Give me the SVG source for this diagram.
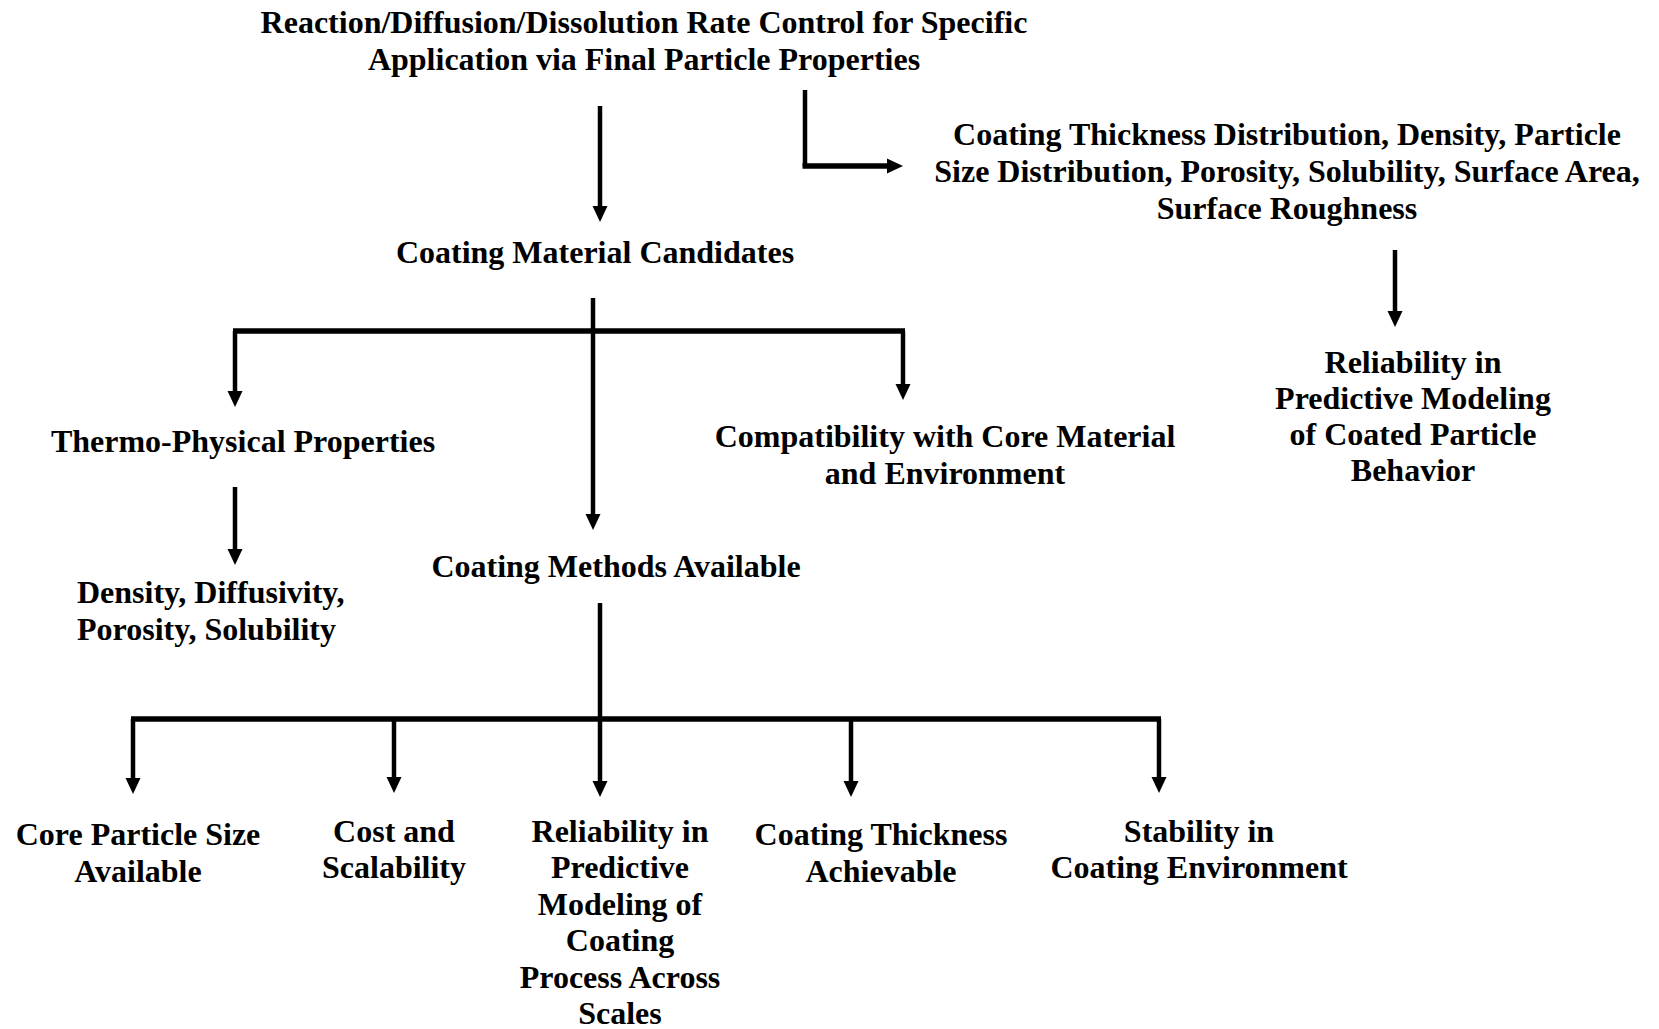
<svg xmlns="http://www.w3.org/2000/svg" width="1659" height="1029" viewBox="0 0 1659 1029">
<style>
text{font-family:"Liberation Serif","Times New Roman",serif;font-weight:bold;font-size:32px;fill:#000;text-anchor:middle}
.l{text-anchor:start}
.c{fill:none;stroke:#000;stroke-width:4.5}
.b{fill:none;stroke:#000;stroke-width:5.5}
</style>
<defs>
<marker id="ah" markerUnits="userSpaceOnUse" markerWidth="16" markerHeight="16" refX="0" refY="7.5" orient="auto" overflow="visible">
<path d="M0,0 L16,7.5 L0,15 Z" fill="#000"/>
</marker>
</defs>
<rect width="1659" height="1029" fill="#fff"/>
<g id="connectors">
<path class="c" d="M600,106 V206" marker-end="url(#ah)"/>
<path class="c" d="M805,90 V166" />
<path class="b" d="M802.5,166 H887" marker-end="url(#ah)"/>
<path class="c" d="M1395,250 V311" marker-end="url(#ah)"/>
<path class="c" d="M593,298 V514" marker-end="url(#ah)"/>
<path class="b" d="M233,331 H905"/>
<path class="c" d="M235,331 V391" marker-end="url(#ah)"/>
<path class="c" d="M903,331 V384" marker-end="url(#ah)"/>
<path class="c" d="M235,487 V549" marker-end="url(#ah)"/>
<path class="c" d="M600,603 V719"/>
<path class="b" d="M131,719 H1161"/>
<path class="c" d="M133,719 V778" marker-end="url(#ah)"/>
<path class="c" d="M394,719 V777" marker-end="url(#ah)"/>
<path class="c" d="M600,719 V781" marker-end="url(#ah)"/>
<path class="c" d="M851,719 V781" marker-end="url(#ah)"/>
<path class="c" d="M1159,719 V777" marker-end="url(#ah)"/>
</g>
<g id="n-goal"><text x="644" y="33">Reaction/Diffusion/Dissolution Rate Control for Specific</text><text x="644" y="70">Application via Final Particle Properties</text></g>
<g id="n-props"><text x="1287" y="145">Coating Thickness Distribution, Density, Particle</text><text x="1287" y="182">Size Distribution, Porosity, Solubility, Surface Area,</text><text x="1287" y="219">Surface Roughness</text></g>
<g id="n-rel-particle"><text x="1413" y="373">Reliability in</text><text x="1413" y="409">Predictive Modeling</text><text x="1413" y="445">of Coated Particle</text><text x="1413" y="481">Behavior</text></g>
<g id="n-candidates"><text x="595" y="263">Coating Material Candidates</text></g>
<g id="n-thermo"><text x="243" y="452">Thermo-Physical Properties</text></g>
<g id="n-density"><text class="l" x="77" y="603">Density, Diffusivity,</text><text class="l" x="77" y="640">Porosity, Solubility</text></g>
<g id="n-compat"><text x="945" y="447">Compatibility with Core Material</text><text x="945" y="484">and Environment</text></g>
<g id="n-methods"><text x="616" y="577">Coating Methods Available</text></g>
<g id="n-core"><text x="138" y="845">Core Particle Size</text><text x="138" y="882">Available</text></g>
<g id="n-cost"><text x="394" y="842">Cost and</text><text x="394" y="878">Scalability</text></g>
<g id="n-rel-process"><text x="620" y="842">Reliability in</text><text x="620" y="878">Predictive</text><text x="620" y="915">Modeling of</text><text x="620" y="951">Coating</text><text x="620" y="988">Process Across</text><text x="620" y="1024">Scales</text></g>
<g id="n-thickness"><text x="881" y="845">Coating Thickness</text><text x="881" y="882">Achievable</text></g>
<g id="n-stability"><text x="1199" y="842">Stability in</text><text x="1199" y="878">Coating Environment</text></g>
</svg>
